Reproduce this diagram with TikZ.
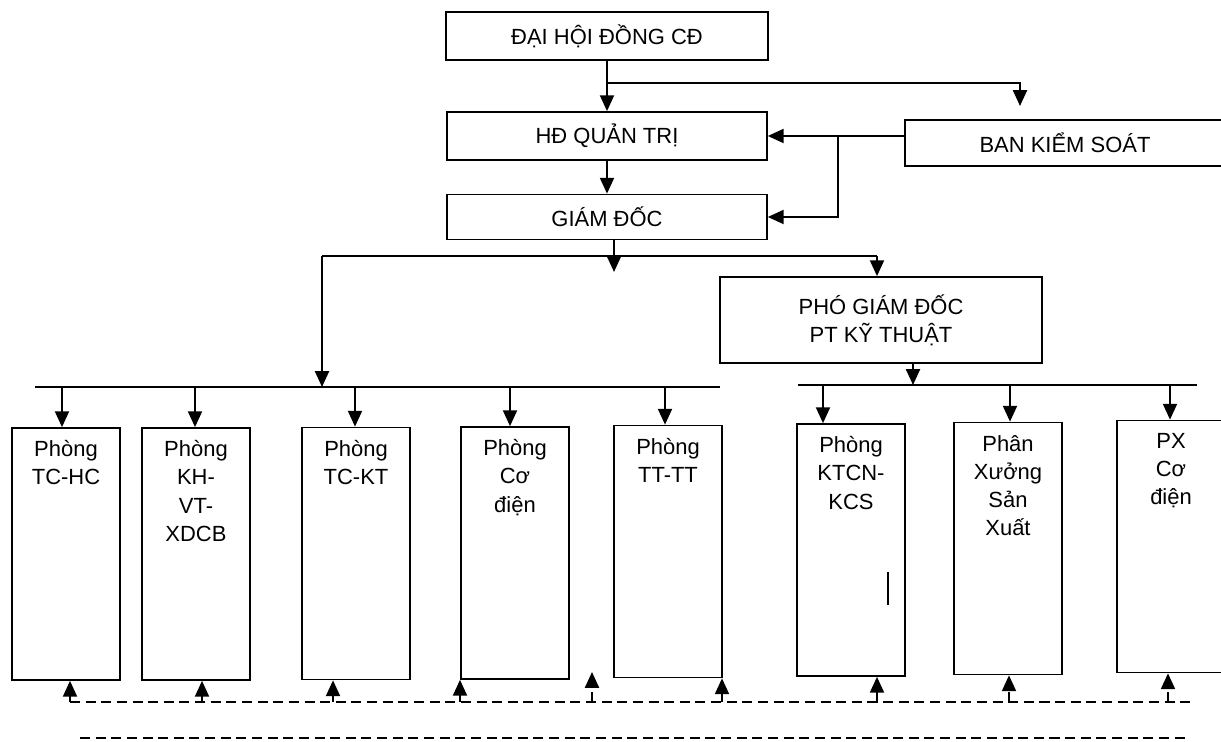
\documentclass[tikz,border=0pt]{standalone}
\usepackage{fontspec}
\setmainfont{Liberation Sans}
\usetikzlibrary{arrows.meta}

\begin{document}
\begin{tikzpicture}[x=0.02cm,y=-0.02cm]
  \tikzstyle{Box}=[draw,line width=1pt,inner sep=0pt,align=center,font=\fontsize{12.5}{16}\selectfont]
  \tikzstyle{Dept}=[Box,minimum width=2.16cm,minimum height=5.04cm]
  \tikzstyle{DeptText}=[anchor=north,align=center,inner sep=0pt,font=\fontsize{12.5}{16}\selectfont]
  \tikzstyle{Line}=[line width=1pt]
  \tikzstyle{Arrow}=[Line,-{Triangle[length=9pt,width=8pt]}]
  \tikzstyle{Link}=[Line,dash pattern=on 5.7pt off 3.2pt]
  \useasboundingbox (0,0) rectangle (1221,742);
  % upper boxes
  \node[Box,minimum width=6.44cm,minimum height=0.96cm] (DHD) at (607,36) {ĐẠI HỘI ĐỒNG CĐ};
  \node[Box,minimum width=6.4cm,minimum height=0.96cm] (HDQT) at (607,136) {HĐ QUẢN TRỊ};
  \node[Box,minimum width=6.4cm,minimum height=0.92cm] (BKS) at (1065,143) {BAN KIỂM SOÁT};
  \node[Box,minimum width=6.4cm,minimum height=0.9cm] (GD) at (607,217) {GIÁM ĐỐC};
  \node[Box,minimum width=6.44cm,minimum height=1.72cm] (PGD) at (881,320) {PHÓ GIÁM ĐỐC\\PT KỸ THUẬT};
  % junctions
  \coordinate (J1) at (607,83);
  \coordinate (T1) at (1020,106);
  \coordinate (J3) at (838,136);
  \coordinate (T2) at (614,272);
  \coordinate (J5) at (322,256);
  \coordinate (J6) at (877,256);
  \coordinate (J7) at (913,385);
  \coordinate (BusA) at (35,387);
  \coordinate (BusB) at (720,387);
  \coordinate (BusC) at (798,385);
  \coordinate (BusD) at (1197,385);
  % upper connectors
  \draw[Arrow] (DHD) -- (HDQT);
  \draw[Arrow] (J1) -| (T1);
  \draw[Arrow] (BKS.west |- HDQT.east) -- (HDQT.east);
  \draw[Arrow] (J3) |- (GD.east);
  \draw[Arrow] (HDQT) -- (GD);
  \draw[Arrow] (GD.south -| T2) -- (T2);
  \draw[Line] (J5) -- (J6);
  \draw[Arrow] (J6) -- (J6 |- PGD.north);
  \draw[Arrow] (J5) -- (J5 |- BusA);
  \draw[Arrow] (PGD.south -| J7) -- (J7);
  \draw[Line] (BusA) -- (BusB);
  \draw[Line] (BusC) -- (BusD);
  % departments
  \foreach \name/\x/\y/\txt in {TCHC/66/554/{Phòng\\TC-HC},
                                KH/196/554/{Phòng\\KH-\\VT-\\XDCB},
                                TCKT/356/553.5/{Phòng\\TC-KT},
                                CD/515/553/{Phòng\\Cơ\\điện},
                                TTTT/668/551.5/{Phòng\\TT-TT},
                                KTCN/851/550/{Phòng\\KTCN-\\KCS},
                                PXSX/1008/548.5/{Phân\\Xưởng\\Sản\\Xuất},
                                PXCD/1171/546.5/{PX\\Cơ\\điện}}
  {
    \node[Dept] (\name) at (\x,\y) {};
    \node[DeptText] (\name-t) at ([yshift=-7.5pt]\name.north) {\txt};
  }
  % arrows from the bus
  \foreach \name/\x/\b in {TCHC/62/387, KH/195/387, TCKT/355/387, CD/510/387,
                           TTTT/665/387, KTCN/823/385, PXSX/1010/385, PXCD/1170/385}
  {
    \coordinate (\name-in) at (\x,\b);
    \draw[Arrow] (\name-in) -- (\name-in |- \name.north);
  }
  % dashed links at the bottom
  \foreach \name/\x in {TCHC/70, KH/202, TCKT/333, CD/460, TTTT/722,
                        KTCN/877, PXSX/1009, PXCD/1168}
  {
    \coordinate (\name-out) at (\x,702);
    \draw[Link,-{Triangle[length=9pt,width=8pt]}] (\name-out) -- (\name-out |- \name.south);
  }
  \coordinate (Free) at (592,702);
  \coordinate (FreeTip) at (592,672);
  \draw[Link,-{Triangle[length=9pt,width=8pt]}] (Free) -- (FreeTip);
  \coordinate (LinkEnd) at (1193,702);
  \draw[Link] (TCHC-out) -- (LinkEnd);
  \coordinate (L2a) at (80,738);
  \coordinate (L2b) at (1185,738);
  \draw[Link] (L2a) -- (L2b);
  % mark inside KTCN box
  \draw[Line] (888,572) -- (888,605);
\end{tikzpicture}
\end{document}
